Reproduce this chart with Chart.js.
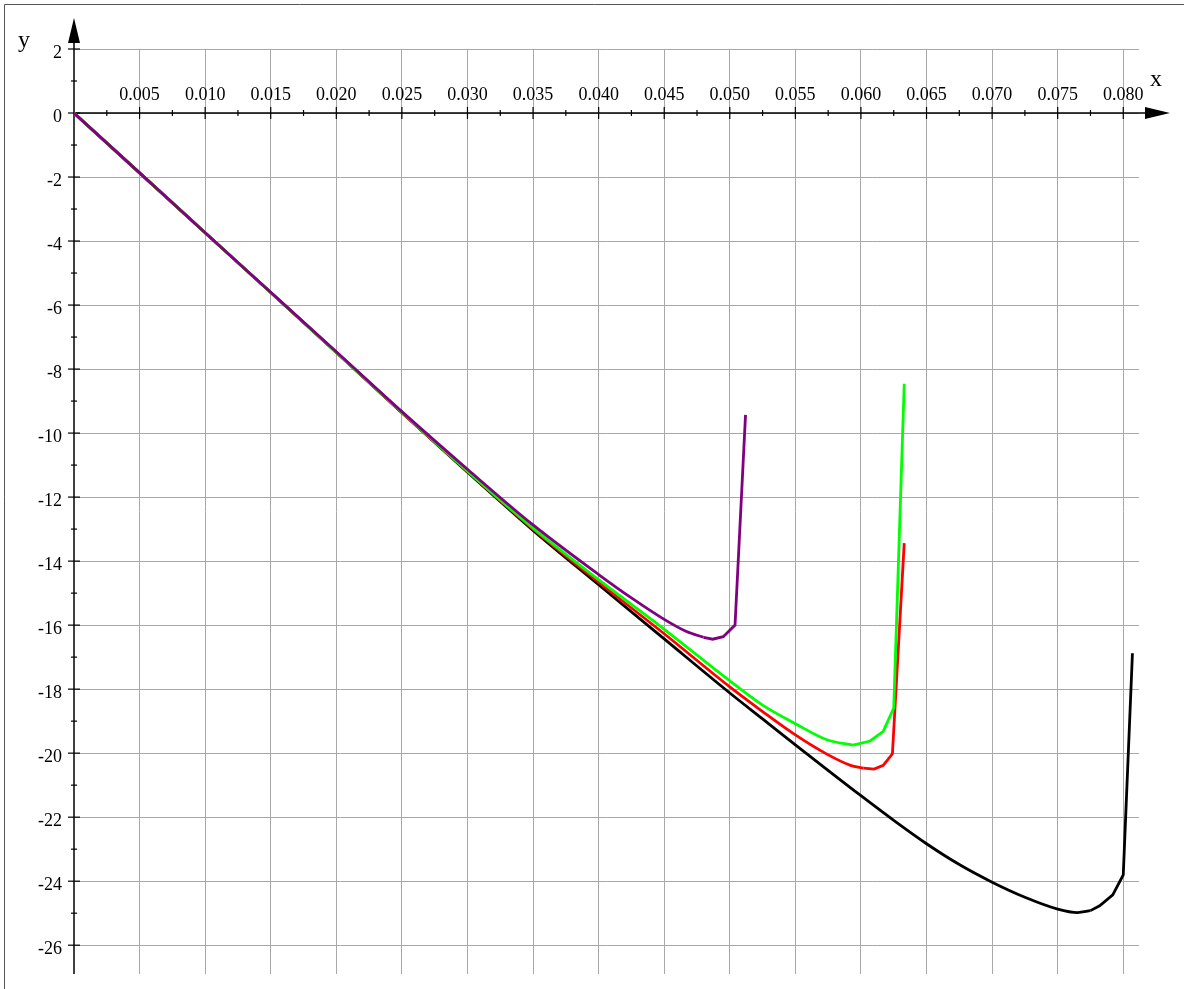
<!DOCTYPE html>
<html>
<head>
<meta charset="utf-8">
<script src="https://cdn.jsdelivr.net/npm/chart.js@4.4.1/dist/chart.umd.min.js"></script>
<style>
  html, body { margin: 0; padding: 0; background: #fff; overflow: hidden; }
  #wrap { position: relative; width: 1184px; height: 989px; }
</style>
</head>
<body>
<div id="wrap"><canvas id="grafico"></canvas></div>
<script>
// ==========================================
// DADOS
// ==========================================
const xTicks = [0.005, 0.010, 0.015, 0.020, 0.025, 0.030, 0.035, 0.040,
                0.045, 0.050, 0.055, 0.060, 0.065, 0.070, 0.075, 0.080];
const xTickLabels = ['0.005', '0.010', '0.015', '0.020', '0.025', '0.030', '0.035', '0.040',
                     '0.045', '0.050', '0.055', '0.060', '0.065', '0.070', '0.075', '0.080'];
const yTicks = [2, 0, -2, -4, -6, -8, -10, -12, -14, -16, -18, -20, -22, -24, -26];
const yTickLabels = ['2', '0', '-2', '-4', '-6', '-8', '-10', '-12', '-14', '-16', '-18', '-20', '-22', '-24', '-26'];

const xMin = 0, xMax = 0.0812;
const yMin = -26.9, yMax = 2;

// curva preta
const pretoX = [0, 0.005, 0.010, 0.015, 0.020, 0.025, 0.030, 0.035, 0.040, 0.045, 0.050, 0.0525,
                0.055, 0.060, 0.0625, 0.065, 0.0675, 0.070, 0.0725, 0.075, 0.0765, 0.0775,
                0.0782, 0.0792, 0.0800, 0.0807];
const pretoY = [0, -1.87, -3.74, -5.61, -7.48, -9.36, -11.22, -13.04, -14.74, -16.43, -18.12, -18.93,
                -19.74, -21.33, -22.1, -22.83, -23.48, -24.03, -24.5, -24.87, -24.98, -24.92,
                -24.77, -24.43, -23.8, -16.88];

// curva vermelha
const vermelhoX = [0, 0.005, 0.010, 0.015, 0.020, 0.025, 0.030, 0.035, 0.040, 0.045, 0.050, 0.0525,
                   0.055, 0.0574, 0.0592, 0.0602, 0.0610, 0.0617, 0.0624, 0.0633];
const vermelhoY = [0, -1.87, -3.74, -5.61, -7.48, -9.36, -11.2, -13.0, -14.66, -16.27, -17.93, -18.7,
                   -19.43, -20.03, -20.38, -20.47, -20.5, -20.38, -20.02, -13.44];

// curva verde
const verdeX = [0, 0.005, 0.010, 0.015, 0.020, 0.025, 0.030, 0.035, 0.040, 0.045, 0.050, 0.0525,
                0.055, 0.0574, 0.0594, 0.0607, 0.0617, 0.0625, 0.0633];
const verdeY = [0, -1.87, -3.74, -5.61, -7.48, -9.35, -11.19, -12.97, -14.58, -16.13, -17.74, -18.5,
                -19.08, -19.58, -19.75, -19.62, -19.32, -18.59, -8.46];

// curva roxa
const roxoX = [0, 0.005, 0.010, 0.015, 0.020, 0.025, 0.030, 0.035, 0.040, 0.0425, 0.045, 0.0467,
               0.0480, 0.0487, 0.0495, 0.0504, 0.0512];
const roxoY = [0, -1.87, -3.74, -5.6, -7.46, -9.33, -11.13, -12.87, -14.42, -15.15, -15.82, -16.2,
               -16.38, -16.44, -16.36, -16.0, -9.43];

// a partir deste índice a curva vira poligonal (pontos espaçados no fim)
const caudaPreto = 21, caudaVermelho = 15, caudaVerde = 14, caudaRoxo = 12;

const pontos = (xs, ys) => xs.map((v, i) => ({ x: v, y: ys[i] }));

// ==========================================
// EIXOS, SETAS E RÓTULOS (estilo Maple)
// ==========================================
const fonteNum = '18px "Liberation Serif", "Times New Roman", serif';
const fonteEixo = '24px "Liberation Serif", "Times New Roman", serif';

const eixos = {
    id: 'eixos',
    beforeDatasetsDraw(chart) {
        const { ctx, chartArea, scales: { x, y } } = chart;
        const x0 = x.getPixelForValue(0);
        const y0 = y.getPixelForValue(0);
        ctx.save();

        // moldura
        ctx.strokeStyle = '#555';
        ctx.lineWidth = 1;
        ctx.beginPath();
        ctx.moveTo(4.5, chart.height);
        ctx.lineTo(4.5, 4.5);
        ctx.lineTo(chart.width, 4.5);
        ctx.stroke();

        ctx.strokeStyle = '#000';
        ctx.fillStyle = '#000';
        ctx.lineWidth = 1.5;

        // eixo y + seta
        const topoSeta = chartArea.top - 31;
        ctx.beginPath();
        ctx.moveTo(x0, chartArea.bottom);
        ctx.lineTo(x0, topoSeta + 20);
        ctx.stroke();
        ctx.beginPath();
        ctx.moveTo(x0, topoSeta);
        ctx.lineTo(x0 - 6, topoSeta + 25);
        ctx.lineTo(x0 + 6, topoSeta + 25);
        ctx.closePath();
        ctx.fill();

        // eixo x + seta
        const pontaSeta = chartArea.right + 31;
        ctx.beginPath();
        ctx.moveTo(x0, y0);
        ctx.lineTo(pontaSeta - 20, y0);
        ctx.stroke();
        ctx.beginPath();
        ctx.moveTo(pontaSeta, y0);
        ctx.lineTo(pontaSeta - 25, y0 - 6);
        ctx.lineTo(pontaSeta - 25, y0 + 6);
        ctx.closePath();
        ctx.fill();

        // marcas do eixo x
        ctx.lineWidth = 1.2;
        xTicks.forEach(v => {
            const px = x.getPixelForValue(v);
            ctx.beginPath(); ctx.moveTo(px, y0 - 6); ctx.lineTo(px, y0 + 6); ctx.stroke();
            const pm = x.getPixelForValue(v - 0.0025);
            ctx.beginPath(); ctx.moveTo(pm, y0 - 3); ctx.lineTo(pm, y0 + 3); ctx.stroke();
        });

        // marcas do eixo y
        yTicks.forEach(v => {
            const py = y.getPixelForValue(v);
            ctx.beginPath(); ctx.moveTo(x0 - 6, py); ctx.lineTo(x0 + 6, py); ctx.stroke();
            if (v - 1 > yMin) {
                const pm = y.getPixelForValue(v - 1);
                ctx.beginPath(); ctx.moveTo(x0 - 3, pm); ctx.lineTo(x0 + 3, pm); ctx.stroke();
            }
        });

        // rótulos numéricos
        ctx.font = fonteNum;
        ctx.textBaseline = 'alphabetic';
        ctx.textAlign = 'center';
        xTicks.forEach((v, i) => {
            ctx.fillText(xTickLabels[i], x.getPixelForValue(v), y0 - 13);
        });
        ctx.textAlign = 'right';
        yTicks.forEach((v, i) => {
            ctx.fillText(yTickLabels[i], x0 - 12, y.getPixelForValue(v) + 9);
        });

        // nomes dos eixos
        ctx.font = fonteEixo;
        ctx.textAlign = 'left';
        ctx.fillText('y', 18, chartArea.top - 2);
        ctx.fillText('x', chartArea.right + 11, y0 - 27);

        ctx.restore();
    }
};

// ==========================================
// GRÁFICO
// ==========================================
const ctxG = document.getElementById('grafico').getContext('2d');

// parte suave (monotone) + parte final em segmentos retos
function curva(xs, ys, cauda, cor) {
    const p = pontos(xs, ys);
    const base = { borderColor: cor, borderWidth: 2.8, showLine: true, pointRadius: 0, fill: false };
    return [
        Object.assign({ data: p.slice(cauda), tension: 0 }, base),
        Object.assign({ data: p.slice(0, cauda + 1), cubicInterpolationMode: 'monotone' }, base)
    ];
}

let grafico = new Chart(ctxG, {
    type: 'scatter',
    data: {
        datasets: [
            ...curva(roxoX, roxoY, caudaRoxo, '#800080'),
            ...curva(verdeX, verdeY, caudaVerde, '#00ff00'),
            ...curva(vermelhoX, vermelhoY, caudaVermelho, '#ff0000'),
            ...curva(pretoX, pretoY, caudaPreto, '#000000')
        ]
    },
    options: {
        responsive: true, maintainAspectRatio: false,
        animation: false,
        layout: { padding: { left: 74, top: 49, right: 45, bottom: 15 } },
        plugins: { legend: { display: false }, tooltip: { enabled: false } },
        scales: {
            x: {
                type: 'linear', min: xMin, max: xMax,
                afterBuildTicks: s => { s.ticks = xTicks.map(v => ({ value: v })); },
                ticks: { display: false },
                border: { display: false },
                grid: { color: '#a8a8a8', lineWidth: 1, drawTicks: false }
            },
            y: {
                type: 'linear', min: yMin, max: yMax,
                afterBuildTicks: s => { s.ticks = yTicks.map(v => ({ value: v })); },
                ticks: { display: false },
                border: { display: false },
                grid: { color: '#a8a8a8', lineWidth: 1, drawTicks: false }
            }
        }
    },
    plugins: [eixos]
});
</script>
</body>
</html>
